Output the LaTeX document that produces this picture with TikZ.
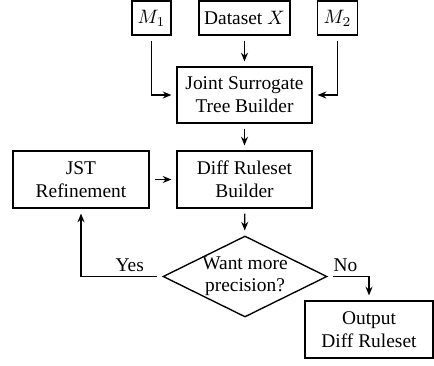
\documentclass[tikz,border=0pt]{standalone}
\usepackage{fontspec}
\setmainfont{Liberation Serif}
\usetikzlibrary{shapes.geometric,arrows.meta}
\begin{document}
\begin{tikzpicture}[x=0.515pt,y=-0.515pt, line width=0.7pt,
  box/.style={draw, align=center, inner sep=0pt, font=\fontsize{10}{12}\selectfont},
  arr/.style={-{Stealth[length=4.5pt,width=3.6pt]}, shorten <=2.5pt, shorten >=2.5pt},
  lbl/.style={above, inner sep=2pt, font=\fontsize{10}{12}\selectfont}]
\useasboundingbox (0,0) rectangle (434,365);
\node[box, minimum width=39*0.515pt, minimum height=34*0.515pt] (m1) at (151.5,18) {$M_1$};
\node[box, minimum width=91*0.515pt, minimum height=34*0.515pt] (ds) at (244.5,18) {Dataset $X$};
\node[box, minimum width=40*0.515pt, minimum height=34*0.515pt] (m2) at (337.5,18) {$M_2$};
\node[box, minimum width=135*0.515pt, minimum height=56*0.515pt] (joint) at (244.5,95) {Joint Surrogate\\Tree Builder};
\node[box, minimum width=135*0.515pt, minimum height=57*0.515pt] (diff) at (244.5,179.5) {Diff Ruleset\\Builder};
\node[box, minimum width=136*0.515pt, minimum height=57*0.515pt] (jst) at (81,179.5) {JST\\Refinement};
\node[draw, diamond, minimum width=164*0.515pt, minimum height=81*0.515pt, inner sep=0pt] (dia) at (245,276.5) {};
\node[align=center, inner sep=0pt, font=\fontsize{10}{11.5}\selectfont] (diat) at (dia.center) {Want more\\precision?};
\node[box, minimum width=128*0.515pt, minimum height=57*0.515pt] (out) at (369,329.5) {Output\\Diff Ruleset};
\draw[arr] (ds) -- (joint);
\draw[arr] (m1) |- (joint);
\draw[arr] (m2) |- (joint);
\draw[arr] (joint) -- (diff);
\draw[arr] (jst) -- (diff);
\draw[arr] (diff) -- (dia);
\draw[arr] (dia.west) -- node[lbl, pos=0.40] {Yes} (dia.west -| jst.south) -- (jst.south);
\draw[arr] (dia.east) -- node[lbl, pos=0.43] {No} (dia.east -| out.north) -- (out.north);
\end{tikzpicture}
\end{document}
